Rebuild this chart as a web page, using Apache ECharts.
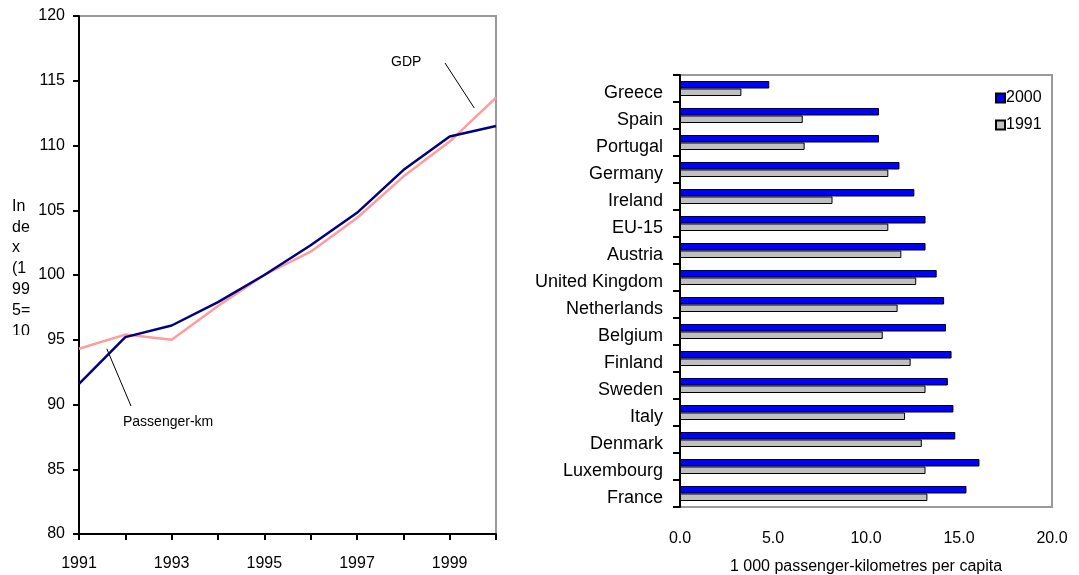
<!DOCTYPE html>
<html>
<head>
<meta charset="utf-8">
<script src="https://cdn.jsdelivr.net/npm/echarts@6/dist/echarts.min.js"></script>
<style>
  html, body { margin: 0; padding: 0; background: #fff; }
  #chart { width: 1079px; height: 575px; }
</style>
</head>
<body>
<div id="chart"></div>
<script>
// Index of passenger-km and GDP (1995 = 100)
const years = [1991, 1992, 1993, 1994, 1995, 1996, 1997, 1998, 1999, 2000];
const passengerKm = [91.6, 95.2, 96.1, 97.9, 100.0, 102.3, 104.8, 108.1, 110.7, 111.5];
const gdp = [94.3, 95.4, 95.0, 97.6, 100.0, 101.8, 104.4, 107.6, 110.3, 113.7];

// Passenger-km per capita by country (thousands)
const countries = ['Greece', 'Spain', 'Portugal', 'Germany', 'Ireland', 'EU-15', 'Austria',
  'United Kingdom', 'Netherlands', 'Belgium', 'Finland', 'Sweden', 'Italy', 'Denmark',
  'Luxembourg', 'France'];
const pkm2000 = [4.8, 10.7, 10.7, 11.8, 12.6, 13.2, 13.2, 13.8, 14.2, 14.3, 14.6, 14.4, 14.7, 14.8, 16.1, 15.4];
const pkm1991 = [3.3, 6.6, 6.7, 11.2, 8.2, 11.2, 11.9, 12.7, 11.7, 10.9, 12.4, 13.2, 12.1, 13.0, 13.2, 13.3];

const FONT = '"Liberation Sans", Arial, sans-serif';
const txt = { color: '#000', fontFamily: FONT, fontSize: 16 };

const chart = echarts.init(document.getElementById('chart'), null, { renderer: 'canvas' });

chart.setOption({
  animation: false,
  backgroundColor: '#fff',
  grid: [
    { left: 79, top: 16, width: 417, height: 518, show: true, borderColor: '#9a9a9a', borderWidth: 2,
      containLabel: false, outerBoundsMode: 'none' },
    { left: 680, top: 75, width: 372, height: 432, show: true, borderColor: '#9a9a9a', borderWidth: 2,
      containLabel: false, outerBoundsMode: 'none' }
  ],
  legend: {
    data: ['2000', '1991'],
    orient: 'vertical',
    left: 990, top: 85,
    icon: 'rect', itemWidth: 9, itemHeight: 9, itemGap: 11,
    textStyle: Object.assign({}, txt, { padding: [0, 0, 0, -4] })
  },
  xAxis: [
    {
      gridIndex: 0, type: 'value', min: 1991, max: 2000, interval: 1,
      axisLine: { lineStyle: { color: '#000', width: 2 } },
      axisTick: { length: 6, lineStyle: { color: '#000', width: 2 } },
      splitLine: { show: false },
      axisLabel: Object.assign({}, txt, {
        margin: 22,
        formatter: v => (v % 2 === 1 ? String(v) : '')
      })
    },
    {
      gridIndex: 1, type: 'value', min: 0, max: 20, interval: 5,
      axisLine: { lineStyle: { color: '#000', width: 2 } },
      axisTick: { length: 7, lineStyle: { color: '#000', width: 2 } },
      splitLine: { show: false },
      axisLabel: Object.assign({}, txt, { margin: 24, formatter: v => v.toFixed(1) }),
      name: '1 000 passenger-kilometres per capita',
      nameLocation: 'middle', nameGap: 52,
      nameTextStyle: txt
    }
  ],
  yAxis: [
    {
      gridIndex: 0, type: 'value', min: 80, max: 120, interval: 5,
      axisLine: { show: true, lineStyle: { color: '#000', width: 2 } },
      axisTick: { show: true, length: 6, lineStyle: { color: '#000', width: 2 } },
      splitLine: { show: false },
      axisLabel: Object.assign({}, txt, { margin: 14 })
    },
    {
      gridIndex: 1, type: 'category', data: countries, inverse: true,
      axisLine: { show: true, lineStyle: { color: '#000', width: 2 } },
      axisTick: { show: true, length: 7, lineStyle: { color: '#000', width: 2 } },
      axisLabel: Object.assign({}, txt, { fontSize: 18, margin: 17, verticalAlign: 'top', lineHeight: 10 })
    }
  ],
  series: [
    {
      name: 'GDP', type: 'line', xAxisIndex: 0, yAxisIndex: 0,
      data: years.map((y, i) => [y, gdp[i]]),
      symbol: 'none', lineStyle: { color: '#ff9c9c', width: 2.5 }, z: 2
    },
    {
      name: 'Passenger-km', type: 'line', xAxisIndex: 0, yAxisIndex: 0,
      data: years.map((y, i) => [y, passengerKm[i]]),
      symbol: 'none', lineStyle: { color: '#000080', width: 2.5 }, z: 3
    },
    {
      name: '2000', type: 'bar', xAxisIndex: 1, yAxisIndex: 1,
      data: pkm2000, barWidth: 7.5, barGap: '0%',
      itemStyle: { color: '#0000ff', borderColor: '#000', borderWidth: 1 }
    },
    {
      name: '1991', type: 'bar', xAxisIndex: 1, yAxisIndex: 1,
      data: pkm1991, barWidth: 7.5, barGap: '0%',
      itemStyle: { color: '#c0c0c0', borderColor: '#000', borderWidth: 1 }
    }
  ]
});

// Annotations and the wrapped y-axis caption of the index panel
const p = (x, y) => chart.convertToPixel({ gridIndex: 0 }, [x, y]);
const gdpTip = p(1999.53, 112.9);
const pkmTip = p(1991.6, 94.3);
chart.setOption({
  graphic: [
    { type: 'text', left: 12, top: 196,
      style: { text: 'In\nde\nx\n(1\n99\n5=\n10', font: '16px ' + FONT, fill: '#000', lineHeight: 20.8 } },
    { type: 'rect', shape: { x: 4, y: 335, width: 30, height: 12 }, style: { fill: '#fff' } },
    { type: 'text', left: 391, top: 55,
      style: { text: 'GDP', font: '14px ' + FONT, fill: '#000' } },
    { type: 'line', shape: { x1: 445, y1: 63, x2: gdpTip[0], y2: gdpTip[1] },
      style: { stroke: '#000', lineWidth: 1 } },
    { type: 'text', left: 123, top: 415,
      style: { text: 'Passenger-km', font: '14px ' + FONT, fill: '#000' } },
    { type: 'line', shape: { x1: 131, y1: 406, x2: pkmTip[0], y2: pkmTip[1] },
      style: { stroke: '#000', lineWidth: 1 } }
  ]
});
</script>
</body>
</html>
